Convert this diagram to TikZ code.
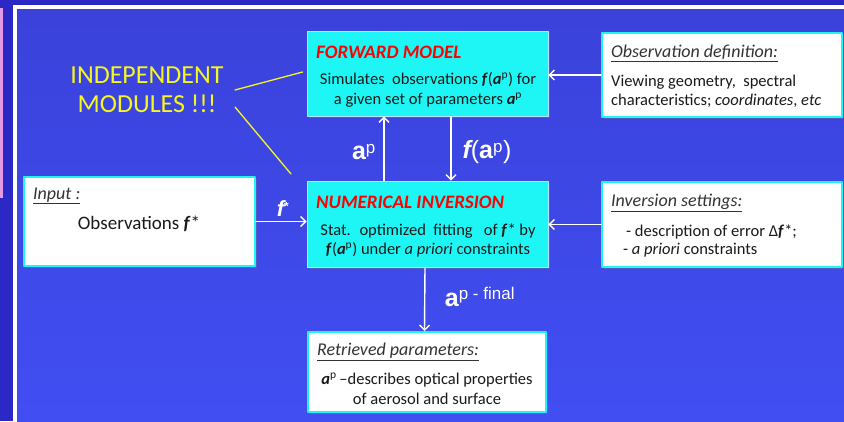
\documentclass[tikz,border=0pt]{standalone}
\usepackage{fontspec}
\setmainfont{Carlito}
\newfontfamily\arialfont{Liberation Sans}
\usetikzlibrary{arrows.meta,shadows}

\definecolor{outerblue}{HTML}{2C28C6}
\definecolor{paneltop}{HTML}{3A42DA}
\definecolor{panelbot}{HTML}{414EF2}
\definecolor{boxcyan}{HTML}{1EF6F6}
\definecolor{txtdark}{HTML}{1A1A1A}
\definecolor{headgray}{HTML}{333333}
\definecolor{modyellow}{HTML}{F6F620}
\definecolor{pinkbar}{HTML}{E49AE6}

\newcommand{\apar}{\textbf{\textit{a}}\textsuperscript{p}}
\newcommand{\fap}{\textbf{\textit{f}}(\apar)}
\newcommand{\fstar}{\textbf{\textit{f}}*}

\tikzset{
  cyanbox/.style={draw=white!70!cyan, line width=0.8pt, fill=boxcyan, inner sep=0pt,
    drop shadow={shadow xshift=1.5pt, shadow yshift=-1.5pt, opacity=0.35}},
  whitebox/.style={draw=boxcyan, line width=2pt, fill=white, inner sep=0pt,
    drop shadow={shadow xshift=1.5pt, shadow yshift=-1.5pt, opacity=0.35}},
  redhead/.style={anchor=west, text=red, inner sep=0pt,
    font=\fontsize{19}{22}\selectfont\bfseries\itshape},
  graytitle/.style={anchor=west, text=headgray, inner sep=0pt,
    font=\fontsize{18}{21}\selectfont\itshape},
  bodytext/.style={text=txtdark, inner sep=0pt, font=\fontsize{16.5}{19.5}\selectfont},
  flow/.style={draw=white, line width=1.4pt, -{Straight Barb[length=5pt,width=10pt]}},
  wlabel/.style={text=white, inner sep=0pt, font=\arialfont\fontsize{17}{20}\selectfont},
  modline/.style={draw=modyellow, line width=1.3pt}
}

\begin{document}
\begin{tikzpicture}[x=1pt,y=-1pt,line cap=round,line join=round]
  \useasboundingbox (0,0) rectangle (844,421);
  % background and frame
  \fill[outerblue] (0,0) rectangle (844,421);
  \fill[pinkbar] (0,8) rectangle (3,198);
  \fill[white] (13,5) rectangle (844,421);
  \shade[top color=paneltop, bottom color=panelbot] (17,9) rectangle (844,421);

  % boxes
  \node[cyanbox, minimum width=241pt, minimum height=85pt] (fwd) at (427.5,73.5) {};
  \node[whitebox, minimum width=240pt, minimum height=84pt] (obsdef) at (722,75) {};
  \node[whitebox, minimum width=231pt, minimum height=89pt] (input) at (139.5,221.5) {};
  \node[cyanbox, minimum width=241pt, minimum height=86pt] (numinv) at (427.5,224) {};
  \node[whitebox, minimum width=240pt, minimum height=85pt] (settings) at (722,224.5) {};
  \node[whitebox, minimum width=238pt, minimum height=80pt] (retr) at (427,372) {};

  % forward model
  \node[redhead] (fwdhead) at (316,52) {FORWARD MODEL};
  \node[bodytext, align=center] (fwdbody) at (428,90)
    {Simulates~ observations \fap{} for\\a given set of parameters \apar};
  % observation definition
  \node[graytitle] (obshead) at (611,53) {\underline{Observation definition:}};
  \node[bodytext, anchor=west, align=left] (obsbody) at (611,91.5)
    {Viewing geometry,~ spectral\\characteristics; \textit{coordinates}, \textit{etc}};
  % input
  \node[graytitle] (inhead) at (33,196) {\underline{Input :}};
  \node[bodytext, font=\fontsize{19}{22}\selectfont] (inbody) at (139,224) {Observations \fstar};
  % numerical inversion
  \node[redhead] (numhead) at (316,202) {NUMERICAL INVERSION};
  \node[bodytext, align=center] (numbody) at (428,240.5)
    {Stat.~ optimized~ fitting~~ of \fstar{} by\\\fap{} under \textit{a priori} constraints};
  % inversion settings
  \node[graytitle] (sethead) at (611,203) {\underline{Inversion settings:}};
  \node[bodytext, anchor=west] (setone) at (626,232) {- description of error Δ\textbf{\textit{f}}*;};
  \node[bodytext, anchor=west] (settwo) at (623,250) {- \textit{a priori} constraints};
  % retrieved parameters
  \node[graytitle] (rethead) at (317,352) {\underline{Retrieved parameters:}};
  \node[bodytext, align=center] (retbody) at (427,388.5)
    {\apar\,--describes optical properties\\of aerosol and surface};

  % independent modules
  \node[text=modyellow, align=center, inner sep=0pt, font=\fontsize{26}{29}\selectfont] (indep)
    at (147,89.5) {INDEPENDENT\\MODULES !!!};
  \coordinate (mtop) at (235,90);
  \coordinate (mbot) at (235,107);
  \coordinate (mend) at (291,174);
  \draw[modline] (mtop) -- ([xshift=-4pt,yshift=1.5pt]fwd.west);
  \draw[modline] (mbot) -- (mend);

  % connectors
  \draw[flow] (obsdef.west) -- (obsdef.west -| fwd.east);
  \draw[flow] (settings.west) -- (settings.west -| numinv.east);
  \draw[flow] (input.east) -- (input.east -| numinv.west);
  \draw[flow] ([xshift=-43.5pt]numinv.north) -- ([xshift=-43.5pt]fwd.south);
  \draw[flow] ([xshift=23.5pt]fwd.south) -- ([xshift=23.5pt]numinv.north);
  \draw[flow] ([xshift=-2.5pt]numinv.south) -- ([xshift=-2.5pt]retr.north);

  % arrow labels
  \node[wlabel] (aplab) at (364,152) {{\fontsize{25}{25}\selectfont\bfseries a}\textsuperscript{\fontsize{17}{17}\selectfont p}};
  \node[wlabel] (faplab) at (487,152) {{\fontsize{25}{25}\selectfont\bfseries\itshape f}{\fontsize{25}{25}\selectfont(}{\fontsize{25}{25}\selectfont\bfseries a}\textsuperscript{\fontsize{17}{17}\selectfont p}{\fontsize{25}{25}\selectfont)}};
  \node[wlabel] (fslab) at (283,209) {{\fontsize{22}{22}\selectfont\bfseries\itshape f}\textsuperscript{\bfseries *}};
  \node[wlabel] (finlab) at (480,297) {{\fontsize{25}{25}\selectfont\bfseries a}\textsuperscript{\fontsize{17}{17}\selectfont p - final}};
\end{tikzpicture}
\end{document}
